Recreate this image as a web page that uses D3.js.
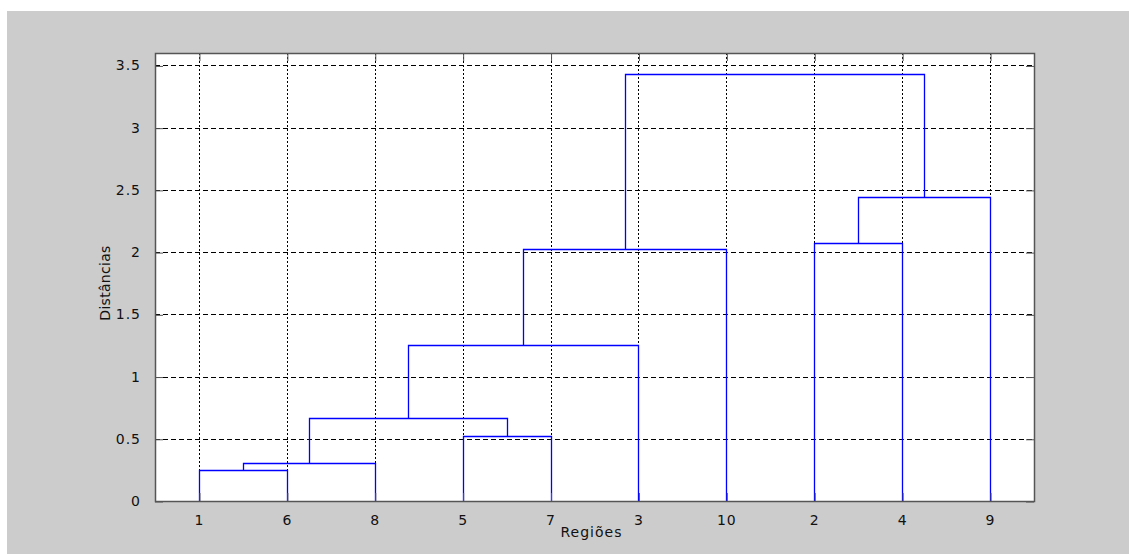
<!DOCTYPE html>
<html>
<head>
<meta charset="utf-8">
<script src="https://cdn.jsdelivr.net/npm/d3@7"></script>
<style>
  html, body { margin: 0; padding: 0; background: #fff; }
  svg text { font-family: "DejaVu Sans", sans-serif; fill: #111; }
</style>
</head>
<body>
<div id="chart"></div>
<script>
// leaf order along the x axis (region ids)
const leafOrder = [1, 6, 8, 5, 7, 3, 10, 2, 4, 9];

// linkage (MATLAB style): ids 1..10 are regions, 11+ are the merged clusters
const linkLeft   = [1,  11, 5,  12, 14, 15, 2,  17, 16];
const linkRight  = [6,  8,  7,  13, 3,  10, 4,  9,  18];
const linkHeight = [0.253, 0.309, 0.521, 0.663, 1.25, 2.027, 2.072, 2.442, 3.434];

const yTicks = [0, 0.5, 1, 1.5, 2, 2.5, 3, 3.5];

const W = 1129, H = 554;
const box = { left: 155, top: 53, right: 1034, bottom: 501 };

const svg = d3.select("#chart")
    .append("svg")
    .attr("width", W)
    .attr("height", H);

// gray figure background
svg.append("rect")
    .attr("x", 7).attr("y", 11)
    .attr("width", W - 7).attr("height", H - 11)
    .attr("fill", "#cccccc");

const x = d3.scaleLinear()
    .domain([0.5, leafOrder.length + 0.5])
    .range([box.left, box.right]);

const y = d3.scaleLinear()
    .domain([0, 3.6])
    .range([box.bottom, box.top]);

const plotW = box.right - box.left;
const plotH = box.bottom - box.top;

svg.append("rect")
    .attr("x", box.left).attr("y", box.top)
    .attr("width", plotW).attr("height", plotH)
    .attr("fill", "#fff");

const px = v => Math.round(v) + 0.5;

// vertical grid (one per leaf)
svg.append("g")
    .attr("shape-rendering", "crispEdges")
    .selectAll("line")
    .data(d3.range(1, leafOrder.length + 1))
    .join("line")
    .attr("x1", d => px(x(d))).attr("x2", d => px(x(d)))
    .attr("y1", box.top).attr("y2", box.bottom)
    .attr("stroke", "#000")
    .attr("stroke-dasharray", "2,2");

// horizontal grid
svg.append("g")
    .attr("shape-rendering", "crispEdges")
    .selectAll("line")
    .data(yTicks.filter(d => d > 0))
    .join("line")
    .attr("x1", box.left).attr("x2", box.right)
    .attr("y1", d => px(y(d))).attr("y2", d => px(y(d)))
    .attr("stroke", "#000")
    .attr("stroke-dasharray", "5,3");

// dendrogram links
const xPos = {}, hPos = {};
leafOrder.forEach((id, i) => { xPos[id] = i + 1; hPos[id] = 0; });

const links = svg.append("g")
    .attr("fill", "none")
    .attr("stroke", "#0000ff")
    .attr("stroke-width", 1.3);

linkHeight.forEach((h, i) => {
    const a = linkLeft[i], b = linkRight[i];
    const id = leafOrder.length + 1 + i;
    const pts = [[xPos[a], hPos[a]], [xPos[a], h], [xPos[b], h], [xPos[b], hPos[b]]];
    links.append("path")
        .attr("d", d3.line().x(d => px(x(d[0]))).y(d => px(y(d[1])))(pts));
    xPos[id] = (xPos[a] + xPos[b]) / 2;
    hPos[id] = h;
});

// axes: box with inward ticks
const axisColor = "#555";
const styleText = g => g.selectAll("text")
    .attr("fill", "#111").attr("font-size", 14)
    .attr("font-family", "DejaVu Sans").attr("letter-spacing", "1px");

svg.append("g")
    .attr("transform", `translate(0,${box.bottom})`)
    .call(d3.axisBottom(x)
        .tickValues(d3.range(1, leafOrder.length + 1))
        .tickFormat(d => leafOrder[d - 1])
        .tickSizeInner(-8).tickSizeOuter(0).tickPadding(14))
    .call(g => g.select(".domain").remove())
    .call(g => g.selectAll("line").attr("stroke", axisColor).attr("transform", "translate(0.5,0)"))
    .call(styleText);

svg.append("g")
    .attr("transform", `translate(0,${box.top})`)
    .call(d3.axisTop(x).tickValues(d3.range(1, leafOrder.length + 1))
        .tickFormat("").tickSizeInner(-8).tickSizeOuter(0))
    .call(g => g.select(".domain").remove())
    .call(g => g.selectAll("line").attr("stroke", axisColor).attr("transform", "translate(0.5,0)"));

svg.append("g")
    .attr("transform", `translate(${box.left},0)`)
    .call(d3.axisLeft(y)
        .tickValues(yTicks)
        .tickFormat(d => d)
        .tickSizeInner(-8).tickSizeOuter(0).tickPadding(14))
    .call(g => g.select(".domain").remove())
    .call(g => g.selectAll("line").attr("stroke", axisColor).attr("transform", "translate(0,0.5)"))
    .call(styleText);

svg.append("g")
    .attr("transform", `translate(${box.right},0)`)
    .call(d3.axisRight(y).tickValues(yTicks).tickFormat("")
        .tickSizeInner(-8).tickSizeOuter(0))
    .call(g => g.select(".domain").remove())
    .call(g => g.selectAll("line").attr("stroke", axisColor).attr("transform", "translate(0,0.5)"));

svg.append("rect")
    .attr("x", box.left + 0.5).attr("y", box.top + 0.5)
    .attr("width", plotW).attr("height", plotH)
    .attr("fill", "none")
    .attr("stroke", axisColor)
    .attr("stroke-width", 1.5);

// axis labels
svg.append("text")
    .attr("x", (box.left + box.right) / 2 - 3)
    .attr("y", 537)
    .attr("text-anchor", "middle")
    .attr("font-size", 14)
    .attr("letter-spacing", "1px")
    .text("Regiões");

svg.append("text")
    .attr("transform", "translate(110,283) rotate(-90)")
    .attr("text-anchor", "middle")
    .attr("font-size", 14)
    .attr("letter-spacing", "0.3px")
    .text("Distâncias");
</script>
</body>
</html>
